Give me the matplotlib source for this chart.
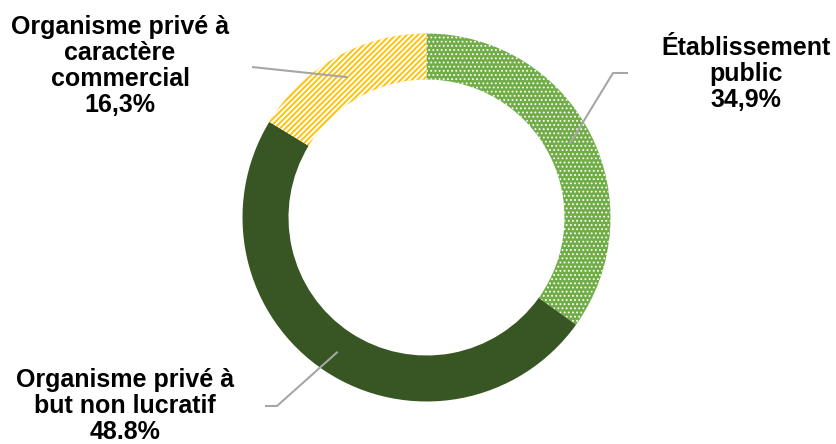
import numpy as np
import matplotlib
matplotlib.use("Agg")
from matplotlib import pyplot as plt

categories = ["Établissement\npublic", "Organisme privé à\nbut non lucratif", "Organisme privé à\ncaractère\ncommercial"]
shares = [34.9, 48.8, 16.3]
share_labels = ["34,9%", "48.8%", "16,3%"]
colors = ["#70ad47", "#375623", "#ffc000"]
hatches = ["....", None, "//////"]
hatch_lw = [0.8, 1.0, 1.5]

W, H = 836, 444

fig = plt.figure(figsize=(W / 100, H / 100), dpi=100)
ax = fig.add_axes([0, 0, 1, 1])

cx, cy = 426.5, H - 217.5
r_out, ring = 184, 46
wedges, _ = ax.pie(shares, colors=colors, startangle=90, counterclock=False,
                   radius=r_out, center=(cx, cy),
                   wedgeprops=dict(width=ring, linewidth=0, edgecolor="white"))
for w, h, hl in zip(wedges, hatches, hatch_lw):
    if h:
        w.set_hatch(h)
        w.set_hatch_linewidth(hl)

# label blocks (pixel positions, y measured from top)
label_pos = [(746, 74), (125, 406), (120, 66)]
# leader line: elbow then end, y from top
leaders = [[(613, 73), (628, 73)], [(277, 406), (265, 406)], [(252, 67)]]

r_mid = r_out - ring / 2
for w, txt, pct, (lx, ly), pts in zip(wedges, categories, share_labels, label_pos, leaders):
    a = np.deg2rad((w.theta1 + w.theta2) / 2)
    xs = [cx + r_mid * np.cos(a)] + [p[0] for p in pts]
    ys = [cy + r_mid * np.sin(a)] + [H - p[1] for p in pts]
    ax.plot(xs, ys, color="#a6a6a6", lw=1.5, solid_capstyle="butt")
    ax.text(lx, H - ly, f"{txt}\n{pct}", ha="center", va="center",
            fontfamily="Liberation Sans", fontweight="bold", fontsize=18,
            linespacing=1.1, color="black")

ax.set_xlim(0, W)
ax.set_ylim(0, H)
ax.set_aspect("equal")
ax.axis("off")
fig.savefig("out.png", dpi=100)
